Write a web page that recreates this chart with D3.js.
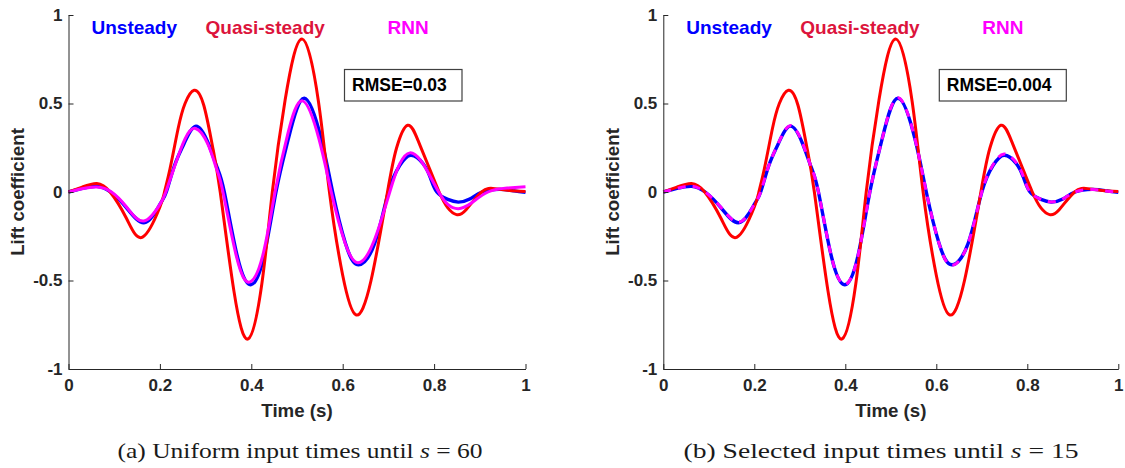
<!DOCTYPE html>
<html>
<head>
<meta charset="utf-8">
<script src="https://cdn.jsdelivr.net/npm/d3@7"></script>
<style>
  html, body { margin: 0; padding: 0; background: #ffffff; }
  svg { display: block; }
</style>
</head>
<body>
<svg id="fig" width="1125" height="468"></svg>
<script>
// ---- Lift coefficient histories (time in s) ----
const timeQuasi = [0, 0.03, 0.062, 0.091, 0.127, 0.162, 0.2, 0.21, 0.222, 0.24, 0.255, 0.275, 0.296, 0.315, 0.332, 0.362, 0.393, 0.423, 0.446, 0.474, 0.511, 0.547, 0.571, 0.6, 0.629, 0.662, 0.698, 0.718, 0.742, 0.765, 0.787, 0.811, 0.83, 0.849, 0.87, 0.904, 0.933, 0.965, 1.0];
const liftQuasi = [0, 0.028, 0.048, 0, -0.15, -0.255, -0.085, 0, 0.13, 0.36, 0.5, 0.575, 0.49, 0.26, 0, -0.56, -0.83, -0.52, 0, 0.52, 0.865, 0.51, 0, -0.47, -0.694, -0.5, 0, 0.25, 0.377, 0.29, 0.151, 0, -0.09, -0.128, -0.1, 0, 0.019, 0.008, 0.003];

const timeUnsteady = [0, 0.03, 0.062, 0.092, 0.127, 0.167, 0.2, 0.214, 0.232, 0.253, 0.279, 0.306, 0.325, 0.341, 0.37, 0.399, 0.427, 0.454, 0.481, 0.516, 0.554, 0.578, 0.606, 0.634, 0.67, 0.7, 0.725, 0.749, 0.776, 0.792, 0.806, 0.83, 0.853, 0.878, 0.905, 0.944, 0.975, 1.0];
const liftUnsteady = [0, 0.02, 0.032, 0, -0.09, -0.173, -0.07, 0, 0.15, 0.274, 0.372, 0.274, 0.14, 0, -0.37, -0.524, -0.37, 0, 0.3, 0.53, 0.29, 0, -0.29, -0.411, -0.29, 0, 0.151, 0.208, 0.16, 0.08, 0, -0.042, -0.057, -0.04, 0, 0.015, 0.006, -0.002];

// RNN trained on uniform input times until s = 60
const timeRnnUniform = [0, 0.03, 0.062, 0.094, 0.127, 0.165, 0.2, 0.213, 0.233, 0.255, 0.278, 0.305, 0.324, 0.338, 0.368, 0.396, 0.425, 0.452, 0.48, 0.512, 0.548, 0.575, 0.604, 0.633, 0.668, 0.703, 0.725, 0.747, 0.77, 0.789, 0.81, 0.83, 0.853, 0.88, 0.918, 0.96, 1.0];
const liftRnnUniform = [0, 0.018, 0.028, 0, -0.085, -0.164, -0.07, 0, 0.151, 0.3, 0.359, 0.27, 0.13, 0, -0.37, -0.509, -0.36, 0, 0.33, 0.515, 0.3, 0, -0.28, -0.4, -0.28, 0, 0.16, 0.221, 0.18, 0.1, 0, -0.07, -0.094, -0.065, 0, 0.022, 0.03];

// RNN trained on selected input times until s = 15
const timeRnnSelected = [0, 0.03, 0.062, 0.092, 0.127, 0.167, 0.2, 0.214, 0.232, 0.253, 0.279, 0.306, 0.325, 0.341, 0.37, 0.399, 0.427, 0.454, 0.481, 0.516, 0.554, 0.578, 0.606, 0.634, 0.67, 0.7, 0.725, 0.749, 0.776, 0.792, 0.806, 0.83, 0.853, 0.878, 0.905, 0.944, 0.975, 1.0];
const liftRnnSelected = [0, 0.02, 0.033, 0, -0.088, -0.17, -0.07, 0, 0.15, 0.276, 0.375, 0.276, 0.14, 0, -0.37, -0.522, -0.37, 0, 0.3, 0.532, 0.29, 0, -0.29, -0.414, -0.29, 0, 0.155, 0.215, 0.165, 0.082, 0, -0.041, -0.056, -0.04, 0, 0.014, 0.005, -0.001];

const xTicks = [0, 0.2, 0.4, 0.6, 0.8, 1];
const yTicks = [-1, -0.5, 0, 0.5, 1];
const legendLabels = ["Unsteady", "Quasi-steady", "RNN"];
const rmseLabels = ["RMSE=0.03", "RMSE=0.004"];
const captionLabels = [
  ["(a) Uniform input times until ", "s", " = 60"],
  ["(b) Selected input times until ", "s", " = 15"]
];

// ---- Styling ----
const AXIS_COLOR = "#262626";
const SANS = "'Liberation Sans', Arial, Helvetica, sans-serif";
const COLORS = { unsteady: "#0000ff", quasi: "#ff0000", rnn: "#ff00ff" };
const LEGEND_COLORS = ["#0000ff", "#dc143c", "#ff00ff"];

const svg = d3.select("#fig");

const panels = [
  { left: 68.5, right: 525.5, rnnT: timeRnnUniform, rnnV: liftRnnUniform, dashed: false,
    rmse: rmseLabels[0], boxW: 117.5, caption: captionLabels[0], capX: 300, capW: 365 },
  { left: 663.3, right: 1118.3, rnnT: timeRnnSelected, rnnV: liftRnnSelected, dashed: true,
    rmse: rmseLabels[1], boxW: 127, caption: captionLabels[1], capX: 881, capW: 395 }
];

const TOP = 15, BOTTOM = 369;

panels.forEach(p => {
  const x = d3.scaleLinear().domain([0, 1]).range([p.left, p.right]);
  const y = d3.scaleLinear().domain([-1, 1]).range([BOTTOM, TOP]);
  const g = svg.append("g");

  const line = d3.line()
    .x(d => x(d[0]))
    .y(d => y(d[1]))
    .curve(d3.curveNatural);

  const zip = (ts, vs) => ts.map((t, i) => [t, vs[i]]);

  // curves
  g.append("path").datum(zip(timeUnsteady, liftUnsteady))
    .attr("d", line).attr("fill", "none")
    .attr("stroke", COLORS.unsteady).attr("stroke-width", 3.4)
    .attr("stroke-linejoin", "round");
  g.append("path").datum(zip(timeQuasi, liftQuasi))
    .attr("d", line).attr("fill", "none")
    .attr("stroke", COLORS.quasi).attr("stroke-width", 3)
    .attr("stroke-linejoin", "round");
  const rnn = g.append("path").datum(zip(p.rnnT, p.rnnV))
    .attr("d", line).attr("fill", "none")
    .attr("stroke", COLORS.rnn).attr("stroke-width", 3)
    .attr("stroke-linejoin", "round");
  if (p.dashed) rnn.attr("stroke-dasharray", "8,7");

  // axes (left and bottom only, ticks pointing inward)
  const yAxis = d3.axisLeft(y).tickValues(yTicks).tickFormat(d => String(d))
    .tickSizeInner(-5).tickSizeOuter(0).tickPadding(6);
  const xAxis = d3.axisBottom(x).tickValues(xTicks).tickFormat(d => String(d))
    .tickSizeInner(-5).tickSizeOuter(0).tickPadding(10);

  const ya = g.append("g").attr("transform", `translate(${p.left},0)`).call(yAxis);
  const xa = g.append("g").attr("transform", `translate(0,${BOTTOM})`).call(xAxis);
  [ya, xa].forEach(a => {
    a.select(".domain").attr("stroke", AXIS_COLOR).attr("stroke-width", 1);
    a.selectAll(".tick line").attr("stroke", AXIS_COLOR).attr("stroke-width", 1);
    a.selectAll(".tick text")
      .attr("fill", AXIS_COLOR)
      .style("font-family", SANS)
      .style("font-weight", "bold")
      .style("font-size", "17px");
  });

  // axis titles
  g.append("text")
    .attr("x", (p.left + p.right) / 2).attr("y", 417)
    .attr("text-anchor", "middle")
    .attr("fill", AXIS_COLOR)
    .style("font-family", SANS).style("font-weight", "bold").style("font-size", "18.7px")
    .text("Time (s)");
  g.append("text")
    .attr("transform", `translate(${p.left - 44.5},${(TOP + BOTTOM) / 2}) rotate(-90)`)
    .attr("text-anchor", "middle")
    .attr("fill", AXIS_COLOR)
    .style("font-family", SANS).style("font-weight", "bold").style("font-size", "18.7px")
    .text("Lift coefficient");

  // series labels
  const legendOffsets = [23, 137, 319];
  legendLabels.forEach((lab, i) => {
    g.append("text")
      .attr("x", p.left + legendOffsets[i]).attr("y", 34)
      .attr("fill", LEGEND_COLORS[i])
      .style("font-family", SANS).style("font-weight", "bold").style("font-size", "19px")
      .text(lab);
  });

  // RMSE annotation box
  const bx = p.left + 276;
  g.append("rect")
    .attr("x", bx).attr("y", 69.5).attr("width", p.boxW).attr("height", 31.5)
    .attr("fill", "#ffffff").attr("stroke", "#404040").attr("stroke-width", 1.2);
  g.append("text")
    .attr("x", bx + 7.5).attr("y", 91.3)
    .attr("fill", "#000000")
    .style("font-family", SANS).style("font-weight", "bold").style("font-size", "17.5px")
    .text(p.rmse);

  // sub-figure caption
  const cap = svg.append("text")
    .attr("x", p.capX).attr("y", 458)
    .attr("text-anchor", "middle")
    .attr("textLength", p.capW)
    .attr("lengthAdjust", "spacingAndGlyphs")
    .attr("fill", "#1a1a1a")
    .style("font-family", "'Liberation Serif', 'DejaVu Serif', serif")
    .style("font-size", "22px");
  cap.append("tspan").text(p.caption[0]);
  cap.append("tspan").style("font-style", "italic").text(p.caption[1]);
  cap.append("tspan").text(p.caption[2]);
});
</script>
</body>
</html>
